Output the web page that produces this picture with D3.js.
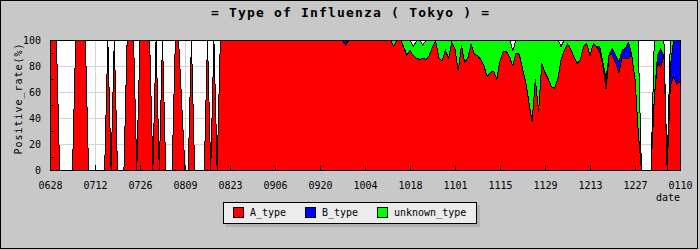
<!DOCTYPE html>
<html>
<head>
<meta charset="utf-8">
<title>Type of Influenza ( Tokyo )</title>
<script src="https://cdn.jsdelivr.net/npm/d3@7"></script>
<style>
  body { margin: 0; background: #c8c8c8; overflow: hidden; }
  svg text { font-family: "DejaVu Sans Mono", monospace; fill: #000; }
</style>
</head>
<body>
<svg width="700" height="250"></svg>
<script>
// daily positive rate (%) by type, 2009-06-28 .. 2010-01-10
const startDay = new Date(2009, 5, 28);
const endDay = new Date(2010, 0, 10);
const tickLabels = ["0628", "0712", "0726", "0809", "0823", "0906", "0920", "1004",
  "1018", "1101", "1115", "1129", "1213", "1227", "0110"];
const seriesNames = ["A_type", "B_type", "unknown_type"];
const seriesColors = ["#ff0000", "#0000ff", "#00ff00"];

const aType = [
  100,100,100,0,0,0,0,0,100,100,100,100,0,0,
  0,0,0,0,100,0,100,0,0,0,100,100,100,0,
  100,100,100,100,0,100,0,100,0,0,0,100,100,50,
  0,0,100,0,0,0,0,100,0,100,0,100,100,100,
  100,100,100,100,100,100,100,100,100,100,100,100,100,100,
  100,100,100,100,100,100,100,100,100,100,100,100,100,100,
  100,100,100,100,100,100,100,100,96,100,100,100,100,100,
  100,100,100,100,100,100,100,100,100,95,100,100,95,88,
  92,88,86,85,86,85,88,95,99,86,84,92,86,98,
  93,76,96,83,86,97,89,88,85,80,72,75,76,70,
  84,91,91,87,80,90,89,78,68,52,37,70,45,82,
  75,70,64,63,70,85,92,97,93,87,82,85,95,97,
  88,97,95,91,80,62,90,88,82,75,86,86,86,88,
  70,30,0,0,0,0,55,83,79,88,0,65,72,66,
  68
];
const bType = [
  0,0,0,0,0,0,0,0,0,0,0,0,0,0,
  0,0,0,0,0,0,0,0,0,0,0,0,0,0,
  0,0,0,0,0,0,0,0,0,0,0,0,0,0,
  0,0,0,0,0,0,0,0,0,0,0,0,0,0,
  0,0,0,0,0,0,0,0,0,0,0,0,0,0,
  0,0,0,0,0,0,0,0,0,0,0,0,0,0,
  0,0,0,0,0,0,0,0,4,0,0,0,0,0,
  0,0,0,0,0,0,0,0,0,0,0,0,0,0,
  0,0,0,0,0,0,0,0,0,0,0,0,0,0,
  0,0,0,0,0,0,0,0,0,0,0,0,0,0,
  0,0,0,0,0,0,0,0,0,0,0,0,0,0,
  0,0,0,0,0,0,0,0,0,0,0,0,0,0,
  0,0,0,4,3,8,0,5,6,8,6,8,12,0,
  0,0,0,0,0,0,0,5,14,0,0,15,28,34,
  32
];
const unknownType = [
  0,0,0,0,0,0,0,0,0,0,0,0,0,0,
  0,0,0,0,0,0,0,0,0,0,0,0,0,0,
  0,0,0,0,0,0,0,0,0,0,0,0,0,0,
  0,0,0,0,0,0,0,0,0,0,0,0,0,0,
  0,0,0,0,0,0,0,0,0,0,0,0,0,0,
  0,0,0,0,0,0,0,0,0,0,0,0,0,0,
  0,0,0,0,0,0,0,0,0,0,0,0,0,0,
  0,0,0,0,0,0,0,0,0,5,0,0,5,12,
  8,7,13,15,10,15,12,5,1,14,16,8,14,2,
  7,24,4,17,14,3,11,12,15,20,28,25,24,30,
  16,9,9,13,12,10,11,22,32,48,63,30,55,18,
  25,30,36,37,30,10,8,3,7,13,18,15,5,3,
  12,3,5,5,17,30,10,7,12,17,8,6,2,12,
  30,70,0,0,0,0,45,12,7,12,0,20,0,0,
  0
];

const svg = d3.select("svg");
const W = 700, H = 250;
const plot = { left: 50, right: 680, top: 40, bottom: 170 };

const fmt = d3.timeFormat("%m%d");
const days = d3.timeDay.range(startDay, d3.timeDay.offset(endDay, 1));
const rows = days.map((d, i) => ({
  date: d, A_type: aType[i], B_type: bType[i], unknown_type: unknownType[i]
}));
const tickDates = tickLabels.map(t => days.find((d, i) => i % 14 === 0 && fmt(d) === t));

const x = d3.scaleTime().domain([startDay, endDay]).range([plot.left, plot.right]);
const y = d3.scaleLinear().domain([0, 100]).range([plot.bottom, plot.top]);

// page background + outer frame
svg.append("rect")
  .attr("x", 0.5).attr("y", 0.5).attr("width", W - 3).attr("height", H - 2)
  .attr("fill", "#c8c8c8").attr("stroke", "#000");

svg.append("text")
  .attr("x", 350).attr("y", 17)
  .attr("text-anchor", "middle")
  .attr("font-size", 13).attr("font-weight", "bold")
  .attr("textLength", 278).attr("lengthAdjust", "spacing")
  .text("= Type of Influenza ( Tokyo ) =");

svg.append("rect")
  .attr("x", plot.left).attr("y", plot.top)
  .attr("width", plot.right - plot.left).attr("height", plot.bottom - plot.top)
  .attr("fill", "#fff");

// grid
const grid = svg.append("g").attr("stroke", "#d4d4d4").attr("shape-rendering", "crispEdges");
grid.selectAll(".gx").data(tickDates).join("line")
  .attr("x1", d => Math.round(x(d)) + 0.5).attr("x2", d => Math.round(x(d)) + 0.5)
  .attr("y1", plot.top).attr("y2", plot.bottom);
grid.selectAll(".gy").data([20, 40, 60, 80]).join("line")
  .attr("x1", plot.left).attr("x2", plot.right)
  .attr("y1", d => Math.round(y(d)) + 0.5).attr("y2", d => Math.round(y(d)) + 0.5);

// stacked areas
const stack = d3.stack().keys(seriesNames);
const layers = stack(rows);

const area = d3.area()
  .x(d => x(d.data.date))
  .y0(d => y(d[0]))
  .y1(d => y(d[1]));
const line = d3.line()
  .x(d => x(d.data.date))
  .y(d => y(d[1]));

svg.append("g").attr("shape-rendering", "crispEdges")
  .selectAll("path").data(layers).join("path")
  .attr("fill", (d, i) => seriesColors[i])
  .attr("d", area);

svg.append("g").attr("shape-rendering", "crispEdges")
  .selectAll("path").data(layers).join("path")
  .attr("fill", "none").attr("stroke", "#000").attr("stroke-width", 1)
  .attr("d", line);

// axes
const xAxis = d3.axisBottom(x)
  .tickValues(tickDates)
  .tickFormat((d, i) => tickLabels[i])
  .tickSizeInner(-5).tickSizeOuter(0).tickPadding(12);
const gx = svg.append("g").attr("transform", `translate(0,${plot.bottom})`).call(xAxis);
gx.select(".domain").remove();
gx.selectAll("line").attr("shape-rendering", "crispEdges");
gx.selectAll("text").attr("font-size", 10).attr("font-family", "DejaVu Sans Mono");

const yAxis = d3.axisLeft(y)
  .tickValues([0, 20, 40, 60, 80, 100])
  .tickSize(0).tickPadding(9);
const gy = svg.append("g").attr("transform", `translate(${plot.left},0)`).call(yAxis);
gy.select(".domain").remove();
gy.selectAll("text").attr("font-size", 10).attr("font-family", "DejaVu Sans Mono");

const yMinor = d3.axisLeft(y)
  .tickValues([10, 30, 50, 70, 90])
  .tickSize(-4).tickFormat("");
const gm = svg.append("g").attr("transform", `translate(${plot.left},0)`).call(yMinor);
gm.select(".domain").remove();
gm.selectAll("line").attr("shape-rendering", "crispEdges");

svg.append("rect")
  .attr("x", plot.left + 0.5).attr("y", plot.top + 0.5)
  .attr("width", plot.right - plot.left).attr("height", plot.bottom - plot.top)
  .attr("fill", "none").attr("stroke", "#000").attr("shape-rendering", "crispEdges");

svg.append("text")
  .attr("transform", "translate(22,99) rotate(-90)")
  .attr("text-anchor", "middle").attr("font-size", 10)
  .attr("textLength", 111).attr("lengthAdjust", "spacing")
  .text("Positive_rate(%)");

svg.append("text")
  .attr("x", 680).attr("y", 201)
  .attr("text-anchor", "end").attr("font-size", 10)
  .text("date");

// legend
const legend = svg.append("g").attr("shape-rendering", "crispEdges");
legend.append("rect")
  .attr("x", 226).attr("y", 205).attr("width", 254).attr("height", 22)
  .attr("fill", "#b2b2b2");
legend.append("rect")
  .attr("x", 223.5).attr("y", 202.5).attr("width", 253).attr("height", 21)
  .attr("fill", "#ececec").attr("stroke", "#000");
const legendX = [233, 305, 377];
const item = legend.selectAll(".item").data(seriesNames).join("g")
  .attr("transform", (d, i) => `translate(${legendX[i]},0)`);
item.append("rect")
  .attr("x", 0.5).attr("y", 207.5).attr("width", 10).attr("height", 10)
  .attr("fill", (d, i) => seriesColors[i]).attr("stroke", "#000");
item.append("text")
  .attr("x", 17).attr("y", 216).attr("font-size", 10)
  .text(d => d);
</script>
</body>
</html>
